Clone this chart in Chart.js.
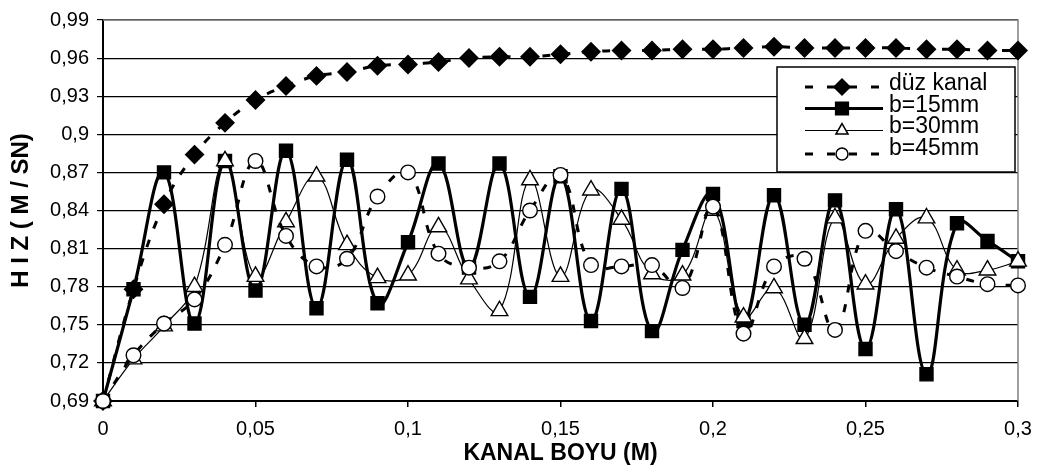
<!DOCTYPE html>
<html>
<head>
<meta charset="utf-8">
<script src="https://cdn.jsdelivr.net/npm/chart.js@4/dist/chart.umd.min.js"></script>
<style>
  html, body { margin: 0; padding: 0; background: #fff; }
  #wrap { width: 1045px; height: 473px; }
</style>
</head>
<body>
<div id="wrap"><canvas id="hiz-chart" width="1045" height="473"></canvas></div>
<script>
// kanal boyu (m)
var kanalBoyu = [0, 0.01, 0.02, 0.03, 0.04, 0.05, 0.06, 0.07, 0.08, 0.09, 0.10,
                 0.11, 0.12, 0.13, 0.14, 0.15, 0.16, 0.17, 0.18, 0.19, 0.20,
                 0.21, 0.22, 0.23, 0.24, 0.25, 0.26, 0.27, 0.28, 0.29, 0.30];

// hiz (m/sn) per series
var duzKanal = [0.690, 0.778, 0.845, 0.884, 0.909, 0.927, 0.938, 0.946, 0.949, 0.954, 0.955,
                0.957, 0.960, 0.961, 0.961, 0.963, 0.965, 0.966, 0.966, 0.967, 0.967,
                0.968, 0.969, 0.968, 0.968, 0.968, 0.968, 0.967, 0.967, 0.966, 0.966];
var b15 = [0.690, 0.778, 0.870, 0.751, 0.879, 0.777, 0.887, 0.763, 0.880, 0.767, 0.815,
           0.877, 0.795, 0.877, 0.772, 0.867, 0.753, 0.857, 0.745, 0.809, 0.853,
           0.753, 0.852, 0.750, 0.848, 0.731, 0.841, 0.711, 0.830, 0.816, 0.800];
var b30 = [0.690, 0.723, 0.749, 0.780, 0.879, 0.788, 0.831, 0.867, 0.813, 0.787, 0.789,
           0.827, 0.786, 0.761, 0.864, 0.788, 0.856, 0.833, 0.790, 0.789, 0.840,
           0.756, 0.779, 0.739, 0.834, 0.782, 0.818, 0.834, 0.793, 0.793, 0.800];
var b45 = [0.690, 0.726, 0.751, 0.770, 0.813, 0.879, 0.820, 0.796, 0.802, 0.851, 0.870,
           0.806, 0.795, 0.800, 0.840, 0.868, 0.797, 0.796, 0.797, 0.779, 0.843,
           0.743, 0.796, 0.802, 0.746, 0.824, 0.808, 0.795, 0.788, 0.782, 0.781];

var seriesNames = ['düz kanal', 'b=15mm', 'b=30mm', 'b=45mm'];

// tick values and their labels (decimal comma)
var xTicks = [0, 0.05, 0.1, 0.15, 0.2, 0.25, 0.3];
var xTickLabels = ['0', '0,05', '0,1', '0,15', '0,2', '0,25', '0,3'];
var yTicks = [0.69, 0.72, 0.75, 0.78, 0.81, 0.84, 0.87, 0.9, 0.93, 0.96, 0.99];
var yTickLabels = ['0,69', '0,72', '0,75', '0,78', '0,81', '0,84', '0,87', '0,9', '0,93', '0,96', '0,99'];

var FONT = "Arial, 'Liberation Sans', Helvetica, sans-serif";

function toPoints(values) {
    return values.map(function (v, i) { return { x: kanalBoyu[i], y: v }; });
}

// series styles, also used by the legend box
var styles = [
    { dash: [8, 12], width: 3, point: 'rectRot', radius: 9, fill: '#000', legendRadius: 8 },
    { dash: [], width: 3.2, point: 'rect', radius: 9.2, fill: '#000', legendRadius: 9 },
    { dash: [], width: 1.2, point: 'triangle', radius: 9.6, fill: '#fff', legendRadius: 7 },
    { dash: [8, 12], width: 3, point: 'circle', radius: 7.3, fill: '#fff', legendRadius: 6 }
];

var seriesValues = [duzKanal, b15, b30, b45];

var datasets = seriesValues.map(function (vals, i) {
    var s = styles[i];
    return {
        label: seriesNames[i],
        data: toPoints(vals),
        borderColor: '#000',
        borderWidth: s.width,
        borderDash: s.dash,
        tension: 0.4,
        fill: false,
        clip: false,
        pointStyle: s.point,
        pointRadius: s.radius,
        pointBackgroundColor: s.fill,
        pointBorderColor: '#000',
        pointBorderWidth: 1.4,
        order: 4 - i
    };
});

// gray plot frame on top and right
var frameLines = {
    id: 'frameLines',
    beforeDatasetsDraw: function (chart) {
        var a = chart.chartArea, ctx = chart.ctx;
        ctx.save();
        ctx.strokeStyle = '#808080';
        ctx.lineWidth = 1.5;
        ctx.beginPath();
        ctx.moveTo(a.left, a.top);
        ctx.lineTo(a.right, a.top);
        ctx.lineTo(a.right, a.bottom);
        ctx.stroke();
        ctx.restore();
    }
};

// boxed legend inside the plot
var boxLegend = {
    id: 'boxLegend',
    afterDatasetsDraw: function (chart) {
        var ctx = chart.ctx;
        var bx = 777, by = 67, bw = 238, bh = 105;
        var rowsLine = [87, 108.5, 130.5, 154];
        var rowsText = [90, 111.5, 133, 155];
        ctx.save();
        ctx.fillStyle = '#fff';
        ctx.fillRect(bx, by, bw, bh);
        ctx.strokeStyle = '#000';
        ctx.lineWidth = 1.5;
        ctx.strokeRect(bx, by, bw, bh);

        for (var i = 0; i < seriesNames.length; i++) {
            var s = styles[i];
            ctx.save();
            ctx.strokeStyle = '#000';
            ctx.lineWidth = s.width;
            ctx.setLineDash(s.dash.length ? [8, 14] : []);
            ctx.beginPath();
            ctx.moveTo(805, rowsLine[i]);
            ctx.lineTo(883, rowsLine[i]);
            ctx.stroke();
            ctx.restore();

            ctx.save();
            ctx.fillStyle = s.fill;
            ctx.strokeStyle = '#000';
            Chart.helpers.drawPoint(ctx, {
                pointStyle: s.point,
                radius: s.legendRadius,
                rotation: 0,
                borderWidth: 1.4
            }, 842, rowsLine[i]);
            ctx.restore();

            ctx.fillStyle = '#000';
            ctx.font = '23px ' + FONT;
            ctx.textBaseline = 'alphabetic';
            ctx.textAlign = 'left';
            ctx.fillText(seriesNames[i], 889, rowsText[i]);
        }
        ctx.restore();
    }
};

var ctx = document.getElementById('hiz-chart').getContext('2d');
var hizChart = new Chart(ctx, {
    type: 'line',
    data: { datasets: datasets },
    options: {
        responsive: false,
        animation: false,
        devicePixelRatio: 1,
        layout: { padding: { left: 0, top: 16, right: 27, bottom: 0 } },
        plugins: {
            legend: { display: false },
            tooltip: { enabled: false }
        },
        scales: {
            x: {
                type: 'linear',
                min: 0,
                max: 0.3,
                afterBuildTicks: function (axis) {
                    axis.ticks = xTicks.map(function (v) { return { value: v }; });
                },
                afterFit: function (axis) { axis.height = 72; },
                ticks: {
                    callback: function (value, index) { return xTickLabels[index]; },
                    font: { family: FONT, size: 20 },
                    color: '#000',
                    padding: 10,
                    maxRotation: 0,
                    autoSkip: false
                },
                grid: { drawOnChartArea: false, drawTicks: true, tickLength: 6, color: '#000', lineWidth: 1.5 },
                border: { color: '#000', width: 2 },
                title: {
                    display: true,
                    text: 'KANAL BOYU (M)',
                    color: '#000',
                    font: { family: FONT, size: 23, weight: 'bold' },
                    padding: { top: 0, bottom: 6 }
                }
            },
            y: {
                min: 0.69,
                max: 0.99,
                afterBuildTicks: function (axis) {
                    axis.ticks = yTicks.map(function (v) { return { value: v }; });
                },
                afterFit: function (axis) { axis.width = 103; },
                ticks: {
                    callback: function (value, index) { return yTickLabels[index]; },
                    font: { family: FONT, size: 20 },
                    color: '#000',
                    padding: 8,
                    autoSkip: false
                },
                grid: { color: '#000', lineWidth: 1.2, tickLength: 6 },
                border: { color: '#000', width: 2 },
                title: {
                    display: true,
                    text: 'H I Z ( M / SN)',
                    color: '#000',
                    font: { family: FONT, size: 24, weight: 'bold' },
                    padding: { top: 7, bottom: 0 }
                }
            }
        }
    },
    plugins: [frameLines, boxLegend]
});
</script>
</body>
</html>
